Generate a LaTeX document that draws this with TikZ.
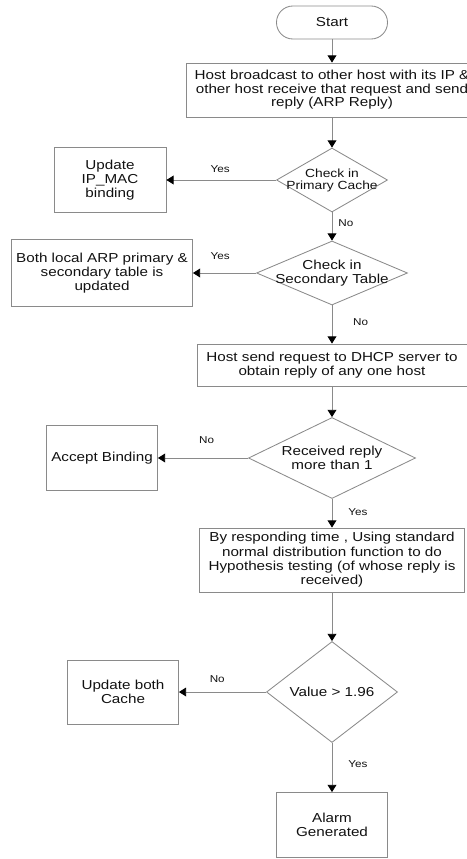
\documentclass[tikz,border=0pt]{standalone}
\usepackage{fontspec}
\setmainfont{Liberation Sans}[FakeStretch=1.17]
\usepackage{tikz}
\usetikzlibrary{positioning,arrows.meta,shapes.geometric}
\definecolor{ink}{HTML}{111111}
\definecolor{rule}{HTML}{8A8A8A}

\begin{document}
\begin{tikzpicture}[font=\fontsize{9.25}{10.2}\selectfont, text=ink,
  box/.style={draw=rule,line width=0.6pt,align=center,inner sep=1pt},
  term/.style={box,rounded corners=4.1mm,minimum width=2.775cm,minimum height=0.825cm},
  dec/.style={diamond,draw=rule,line width=0.6pt,inner sep=0pt},
  lbl/.style={font=\fontsize{7.1}{7.1}\selectfont,inner sep=0pt},
  ar/.style={-{Triangle[length=1.8mm,width=2.2mm,color=black]},draw=rule,line width=0.6pt}]
\clip (0,0) rectangle (11.675,-21.475);
% main column
\node[term] (start) at (8.3,-0.5625) {Start};
\node[box,minimum width=7.3cm,minimum height=1.35cm,font=\fontsize{9.25}{9.6}\selectfont] (bcast) at (8.3,-2.25)
  {Host broadcast to other host with its IP \&\\other host receive that request and send\\reply (ARP Reply)};
\node[dec,minimum width=2.775cm,minimum height=1.6cm,
  label={[align=center,font=\fontsize{8.4}{8.6}\selectfont]center:Check in\\Primary Cache}] (prim) at (8.3,-4.5) {};
\node[dec,minimum width=3.775cm,minimum height=1.6cm,
  label={[align=center]center:Check in\\Secondary Table}] (sec) at (8.3,-6.825) {};
\node[box,minimum width=6.75cm,minimum height=1.05cm] (dhcp) at (8.3,-9.125)
  {Host send request to DHCP server to\\obtain reply of any one host};
\node[dec,minimum width=4.175cm,minimum height=2.025cm,
  label={[align=center]center:Received reply\\more than 1}] (recv) at (8.3,-11.45) {};
\node[box,minimum width=6.625cm,minimum height=1.6cm] (hyp) at (8.3,-14.0)
  {By responding time , Using standard\\normal distribution function to do\\Hypothesis testing (of whose reply is\\received)};
\node[dec,minimum width=3.275cm,minimum height=2.525cm,
  label={center:Value > 1.96}] (val) at (8.3,-17.3) {};
\node[box,minimum width=2.775cm,minimum height=1.625cm] (alarm) at (8.3,-20.625) {Alarm\\Generated};
% side boxes
\node[box,minimum width=2.8cm,minimum height=1.625cm] (upd) at (2.75,-4.5) {Update\\IP\_MAC\\binding};
\node[box,minimum width=4.525cm,minimum height=1.675cm] (both) at (2.55,-6.825)
  {Both local ARP primary \&\\secondary table is\\updated};
\node[box,minimum width=2.775cm,minimum height=1.625cm] (acc) at (2.55,-11.45) {Accept Binding};
\node[box,minimum width=2.775cm,minimum height=1.6cm] (cache) at (3.075,-17.3) {Update both\\Cache};
% connectors
\draw[ar] (start) -- (bcast);
\draw[ar] (bcast) -- (prim);
\draw[ar] (prim) -- node[lbl,pos=.38,right=0.15cm]{No} (sec);
\draw[ar] (sec) -- node[lbl,pos=.44,right=0.52cm]{No} (dhcp);
\draw[ar] (dhcp) -- (recv);
\draw[ar] (recv) -- node[lbl,pos=.47,right=0.4cm]{Yes} (hyp);
\draw[ar] (hyp) -- (val);
\draw[ar] (val) -- node[lbl,pos=.44,right=0.4cm]{Yes} (alarm);
\draw[ar] (prim) -- node[lbl,pos=.51,above=0.18cm]{Yes} (upd);
\draw[ar] (sec) -- node[lbl,pos=.57,above=0.33cm]{Yes} (both);
\draw[ar] (recv) -- node[lbl,pos=.46,above=0.35cm]{No} (acc);
\draw[ar] (val) -- node[lbl,pos=.56,above=0.23cm]{No} (cache);
\end{tikzpicture}
\end{document}
